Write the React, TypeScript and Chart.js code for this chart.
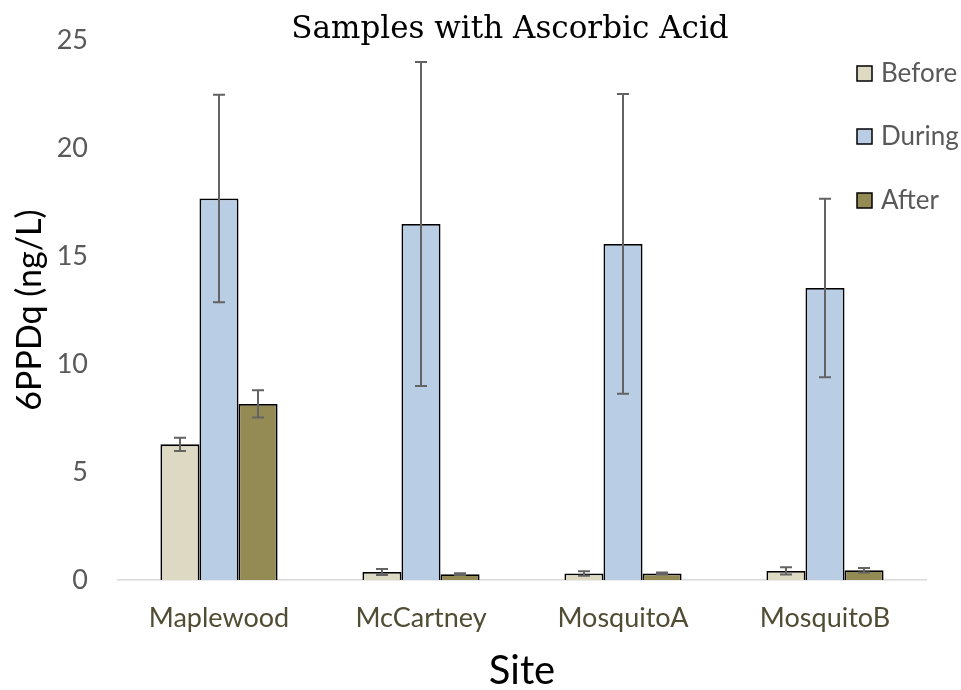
import React, { useEffect, useRef } from "react";
import { Chart, registerables } from "chart.js";

Chart.register(...registerables);

const sites = ["Maplewood", "McCartney", "MosquitoA", "MosquitoB"];
const seriesNames = ["Before", "During", "After"];
const beforeValues = [6.28, 0.37, 0.3, 0.42];
const beforeErrors = [0.31, 0.14, 0.1, 0.17];
const duringValues = [17.66, 16.48, 15.56, 13.52];
const duringErrors = [4.8, 7.5, 6.94, 4.13];
const afterValues = [8.15, 0.27, 0.3, 0.45];
const afterErrors = [0.63, 0.04, 0.05, 0.1];
const yTicks = [0, 5, 10, 15, 20, 25];

const fills = ["#ddd9c3", "#b9cde5", "#948a54"];
const FONT = "Lato, 'Liberation Sans', sans-serif";

export default function App() {
  const ref = useRef<HTMLCanvasElement | null>(null);

  useEffect(() => {
    document.body.style.margin = "0";
    const canvas = ref.current;
    if (!canvas) return;
    const errors = [beforeErrors, duringErrors, afterErrors];

    const errorBarPlugin = {
      id: "errorBars",
      afterDatasetsDraw(chart: any) {
        const ctx = chart.ctx;
        const yScale = chart.scales.y;
        ctx.save();
        ctx.strokeStyle = "#636363";
        ctx.lineWidth = 2;
        chart.data.datasets.forEach((ds: any, di: number) => {
          const meta = chart.getDatasetMeta(di);
          meta.data.forEach((bar: any, i: number) => {
            const v = ds.data[i];
            const e = errors[di][i];
            const yTop = yScale.getPixelForValue(v + e);
            const yBot = yScale.getPixelForValue(v - e);
            const x = Math.round(bar.x);
            ctx.beginPath();
            ctx.moveTo(x, yTop);
            ctx.lineTo(x, yBot);
            ctx.moveTo(x - 6, yTop);
            ctx.lineTo(x + 6, yTop);
            ctx.moveTo(x - 6, yBot);
            ctx.lineTo(x + 6, yBot);
            ctx.stroke();
          });
        });
        ctx.restore();
      },
    };

    const overlayPlugin = {
      id: "overlay",
      afterDraw(chart: any) {
        const ctx = chart.ctx;
        ctx.save();
        ctx.fillStyle = "#000";
        ctx.font = "31px 'DejaVu Serif', 'Liberation Serif', serif";
        ctx.textAlign = "center";
        ctx.textBaseline = "middle";
        ctx.fillText("Samples with Ascorbic Acid", 510, 30);
        const ys = [73, 136, 200];
        ctx.textAlign = "left";
        ctx.font = `26px ${FONT}`;
        seriesNames.forEach((name, i) => {
          const y = ys[i];
          ctx.fillStyle = fills[i];
          ctx.fillRect(857, y - 7, 15, 15);
          ctx.strokeStyle = "#000";
          ctx.lineWidth = 1.5;
          ctx.strokeRect(857, y - 7, 15, 15);
          ctx.fillStyle = "#595959";
          ctx.fillText(name, 881, y + 1);
        });
        ctx.restore();
      },
    };

    const chart = new Chart(canvas, {
      type: "bar",
      data: {
        labels: sites,
        datasets: [
          { label: seriesNames[0], data: beforeValues, backgroundColor: fills[0], borderColor: "#000", borderWidth: 1.8 },
          { label: seriesNames[1], data: duringValues, backgroundColor: fills[1], borderColor: "#000", borderWidth: 1.8 },
          { label: seriesNames[2], data: afterValues, backgroundColor: fills[2], borderColor: "#000", borderWidth: 1.8 },
        ],
      },
      options: {
        animation: false,
        responsive: false,
        maintainAspectRatio: false,
        layout: { padding: { top: 40, right: 35, left: 0, bottom: 0 } },
        datasets: { bar: { categoryPercentage: 0.58, barPercentage: 1.0 } },
        plugins: {
          legend: { display: false },
          title: { display: false },
          tooltip: { enabled: false },
        },
        scales: {
          x: {
            grid: { display: false, drawTicks: false },
            border: { display: true, color: "#d9d9d9", width: 1.5 },
            ticks: { color: "#514c34", font: { family: FONT, size: 27 }, padding: 22 },
            title: { display: true, text: "Site", color: "#000", font: { family: FONT, size: 40, lineHeight: 1.0 }, padding: { top: 0, bottom: -1 } },
            afterFit(scale: any) {
              scale.height = 110;
            },
          },
          y: {
            min: 0,
            max: 25,
            afterBuildTicks(scale: any) {
              scale.ticks = yTicks.map((v) => ({ value: v }));
            },
            grid: { display: false, drawTicks: false },
            border: { display: false },
            ticks: { color: "#595959", font: { family: FONT, size: 27 }, padding: 30 },
            title: { display: true, text: "6PPDq (ng/L)", color: "#000", font: { family: FONT, size: 34 }, padding: { top: 10, bottom: 0 } },
            afterFit(scale: any) {
              scale.width = 118;
              scale.paddingTop = 0;
              scale.paddingBottom = 0;
            },
          },
        },
      },
      plugins: [errorBarPlugin, overlayPlugin],
    });
    return () => chart.destroy();
  }, []);

  return (
    <div style={{ width: 961, height: 690 }}>
      <canvas ref={ref} width={961} height={690} style={{ display: "block" }} />
    </div>
  );
}
